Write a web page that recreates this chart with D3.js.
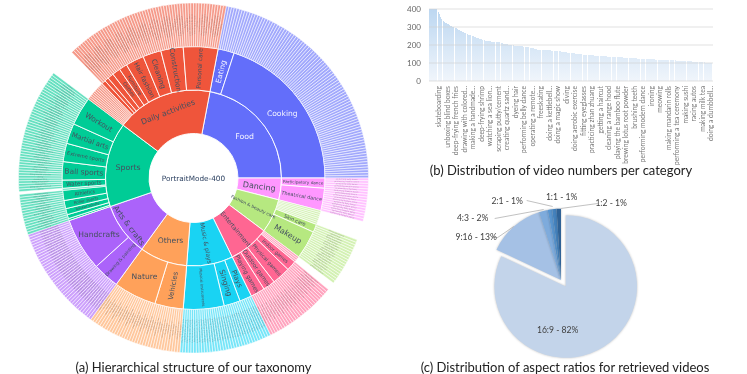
<!DOCTYPE html>
<html>
<head>
<meta charset="utf-8">
<script src="https://cdn.jsdelivr.net/npm/d3@7"></script>
<style>
  html, body { margin: 0; background: #fff; }
  svg { display: block; filter: blur(0.4px); }
  text { font-family: "DejaVu Sans", sans-serif; }
  .caption, .office { font-family: Lato, "Open Sans", sans-serif; }
</style>
</head>
<body>
<div id="chart"></div>
<script>
// (a) taxonomy: top groups, their sub groups and how many leaf classes each has.
// an empty sub name means the leaves sit directly under the top group
const topNames = ["Food", "Dancing", "Fashion & beauty care", "Entertainment", "Music & plays", "Others", "Arts & crafts", "Sports", "Daily activities"];
const subNames = [
  ["Eating", "Cooking"],
  ["Participatory dance", "Theatrical dance"],
  ["", "Skin care", "Makeup"],
  ["", "Indoor games", "Physical games", "Outdoor games", "Playing games"],
  ["Plays", "Singing", "Musical Instruments"],
  ["Vehicles", "Nature"],
  ["Drawing & painting", "Handcrafts"],
  ["small-1", "small-2", "Racket sports", "Roller sports", "Athletics", "", "Water sports", "Ball sports", "Extreme sports", "Martial arts", "Workout"],
  ["", "small-3", "small-4", "small-5", "Clothes", "Furniture", "Hair fashion", "Cleaning", "Construction", "Personal care"]
];
const subCounts = [
  [8, 80],
  [5, 11],
  [7, 4, 14],
  [3, 5, 9, 6, 7],
  [6, 8, 20],
  [14, 21],
  [13, 26],
  [1, 2, 3, 4, 5, 1, 4, 9, 9, 10, 14],
  [10, 2, 2, 3, 4, 4, 9, 9, 11, 17]
];
const centerName = "PortraitMode-400";
// the outer ring labels are too small to read, these stand in for them
const leafNames = [
  [],
  ["performing belly dance", "performing modern dance"],
  ["getting a haircut", "fitting eyeglasses", "dyeing hair"],
  ["doing a magic show", "racing autos"],
  ["playing the bamboo flute", "practicing zhan zhuang"],
  ["watching a sea lion", "meowing", "racing autos"],
  ["making a handmade", "drawing with colored", "creating quartz sand"],
  ["doing aerobic exercise", "freeskating", "doing a kettlebell", "skateboarding", "diving"],
  ["ironing", "brushing teeth", "cleaning a range hood", "scraping putty/cement", "operating a remote"]
];

// (b) videos per category, sorted, clipped at the top of the axis
const barValues = [
  400,400,400,400,400,400,400,400,400,400,400,400,400,385,375,365,355,345,340,335,
  332,330,328,325,322,320,317,314,312,309,307,305,302,300,298,297,295,293,292,290,
  288,286,283,281,279,277,275,272,270,268,267,265,263,261,260,258,257,255,254,253,
  251,250,248,246,245,243,242,240,239,238,236,235,233,232,231,229,228,227,226,225,
  224,223,222,221,220,220,220,219,219,218,218,218,217,217,217,216,216,215,214,214,
  213,212,211,210,209,208,207,206,205,204,203,202,201,200,200,200,199,199,198,198,
  197,197,197,196,196,195,195,194,194,193,193,192,192,191,190,190,189,189,188,188,
  187,186,186,185,184,183,182,181,180,179,178,177,176,175,175,174,174,174,173,173,
  173,172,172,172,172,171,171,171,171,170,170,170,170,169,169,169,168,168,168,167,
  167,166,166,165,165,164,164,163,162,162,161,160,160,159,159,158,158,157,156,156,
  155,155,154,154,153,153,152,151,151,150,150,149,149,149,148,148,147,147,146,146,
  146,145,145,145,144,144,144,143,143,143,142,142,142,141,141,141,140,140,140,140,
  139,139,139,138,138,138,138,137,137,137,137,136,136,136,136,135,135,135,135,134,
  134,134,133,133,133,133,132,132,132,132,131,131,131,131,130,130,130,130,130,129,
  129,129,129,129,128,128,128,127,127,127,127,126,126,126,125,125,125,125,124,124,
  124,124,123,123,123,123,122,122,122,122,122,121,121,121,121,120,120,120,120,120,
  119,119,119,119,119,118,118,118,118,118,117,117,117,117,117,116,116,116,116,115,
  115,115,115,115,114,114,114,114,114,113,113,113,113,113,112,112,112,112,112,111,
  111,111,111,111,110,110,110,110,109,109,109,109,108,108,108,107,107,107,106,106,
  106,105,105,105,104,104,104,103,103,103,102,102,102,102,101,101,101,101,100,100
];
const barTickNames = ["skateboarding", "unboxing blind boxes", "deep-frying french fries", "drawing with colored...", "making a handmade...", "deep-frying shrimp", "watching a sea lion...", "scraping putty/cement", "creating quartz sand...", "dyeing hair", "performing belly dance", "operating a remote...", "freeskating", "doing a kettlebell...", "doing a magic show", "diving", "doing aerobic exercise", "fitting eyeglasses", "practicing zhan zhuang", "getting a haircut", "cleaning a range hood", "playing the bamboo flute", "brewing lotus root powder", "brushing teeth", "performing modern dance", "ironing", "meowing", "making mandarin rolls", "performing a tea ceremony", "making sushi", "racing autos", "making milk tea", "doing a dumbbell..."];
const barAxisTicks = [0, 100, 200, 300, 400];

// (c) aspect ratios
const pieNames = ["16:9", "9:16", "4:3", "2:1", "1:1", "1:2"];
const pieValues = [82, 13, 2, 1, 1, 1];

// styles
const topColors = ["#636efa", "#ff97ff", "#b6e880", "#ff6692", "#19d3f3", "#ffa15a", "#ab63fa", "#00cc96", "#ef553b"];
const pieColors = ["#c3d4ea", "#a5c1e5", "#7eabdc", "#5a96d0", "#4482bd", "#2f6296"];
const labelSizes = {
  "Food": 7.8, "Dancing": 8, "Fashion & beauty care": 4.4, "Entertainment": 6.1, "Music & plays": 6, "Others": 7.6, "Arts & crafts": 7.6, "Sports": 7.8, "Daily activities": 7.8,
  "Eating": 7.4, "Cooking": 7.6, "Participatory dance": 4.2, "Theatrical dance": 4.9, "Skin care": 5, "Makeup": 7.8,
  "Indoor games": 4.8, "Physical games": 5.2, "Outdoor games": 5.6, "Playing games": 5.8, "Plays": 7, "Singing": 7.4, "Musical Instruments": 3.8,
  "Vehicles": 7, "Nature": 7.6, "Drawing & painting": 4.4, "Handcrafts": 7.6,
  "Racket sports": 3.6, "Roller sports": 4, "Athletics": 4.8, "Water sports": 5.6, "Ball sports": 7.4, "Extreme sports": 5, "Martial arts": 6.8, "Workout": 7.4,
  "Clothes": 4.5, "Furniture": 5, "Hair fashion": 6.4, "Cleaning": 7, "Construction": 7, "Personal care": 6
};
const flatLabels = ["Food", "Cooking", "Sports", "Others", "Nature", "Handcrafts"];
const tangentLabels = { "Daily activities": 71, "Arts & crafts": 80 };
const whiteLabels = ["Food", "Cooking", "Eating"];

const svg = d3.select("#chart").append("svg")
  .attr("width", 747)
  .attr("height", 374);

drawSunburst();
drawBars();
drawPie();

function drawSunburst() {
  const cx = 193.5, cy = 178;
  const startAngle = 10.8 * Math.PI / 180;

  const rootData = {
    name: centerName,
    children: topNames.map(function(name, i) {
      let children = [];
      subNames[i].forEach(function(sub, j) {
        const leaves = d3.range(subCounts[i][j]).map(function() { return { value: 1 }; });
        if (sub === "") children = children.concat(leaves);
        else children.push({ name: sub, children: leaves });
      });
      return { name: name, top: i, children: children };
    })
  };

  const root = d3.hierarchy(rootData).sum(function(d) { return d.value || 0; });
  d3.partition().size([2 * Math.PI, 4])(root);

  const radius = d3.scaleLinear().domain([1, 4]).range([44.5, 175]);
  const arc = d3.arc()
    .startAngle(function(d) { return d.x0 + startAngle; })
    .endAngle(function(d) { return d.x1 + startAngle; })
    .innerRadius(function(d) { return radius(d.y0); })
    .outerRadius(function(d) { return radius(d.y1); });

  const g = svg.append("g").attr("transform", "translate(" + cx + "," + cy + ")");
  const nodes = root.descendants().filter(function(d) { return d.depth > 0; });
  const topIndex = function(d) { return d.ancestors().slice(-2)[0].data.top; };

  g.selectAll("path")
    .data(nodes)
    .enter()
    .append("path")
    .attr("d", arc)
    .attr("fill", function(d) { return topColors[topIndex(d)]; })
    .attr("fill-opacity", function(d) { return d.children ? 1 : 0.6; })
    .attr("stroke", "#fff")
    .attr("stroke-width", function(d) { return d.children ? 0.9 : 0.55; });

  g.selectAll("text.node")
    .data(nodes.filter(function(d) { return labelSizes[d.data.name]; }))
    .enter()
    .append("text")
    .attr("class", "node")
    .attr("text-anchor", "middle")
    .attr("dy", ".35em")
    .attr("fill", function(d) { return whiteLabels.indexOf(d.data.name) >= 0 ? "#f4f4ff" : "#44505f"; })
    .style("font-size", function(d) { return labelSizes[d.data.name] + "px"; })
    .attr("transform", function(d) {
      const name = d.data.name;
      let c = arc.centroid(d);
      if (tangentLabels[name]) {
        const a = (d.x0 + d.x1) / 2 + startAngle;
        c = [tangentLabels[name] * Math.sin(a), -tangentLabels[name] * Math.cos(a)];
      }
      return "translate(" + c[0] + "," + c[1] + ") rotate(" + labelRotation(d) + ")";
    })
    .text(function(d) { return d.data.name; });

  // outer ring labels
  const leaves = nodes.filter(function(d) { return !d.children && d.depth === 3 && leafNames[topIndex(d)].length; });
  g.selectAll("text.leaf")
    .data(leaves)
    .enter()
    .append("text")
    .attr("class", "leaf")
    .attr("text-anchor", "middle")
    .attr("dy", ".35em")
    .attr("fill", "#444")
    .attr("fill-opacity", 0.4)
    .style("font-size", "1.9px")
    .attr("transform", function(d) {
      const c = arc.centroid(d);
      return "translate(" + c[0] + "," + c[1] + ") rotate(" + labelRotation(d) + ")";
    })
    .text(function(d, i) {
      const names = leafNames[topIndex(d)];
      return names[i % names.length];
    });

  g.append("text")
    .attr("text-anchor", "middle")
    .attr("dy", ".35em")
    .attr("fill", "#2a3f5f")
    .style("font-size", "7.3px")
    .text(centerName);

  function labelRotation(d) {
    const a = ((d.x0 + d.x1) / 2 + startAngle) * 180 / Math.PI % 360;
    if (flatLabels.indexOf(d.data.name) >= 0) return 0;
    if (tangentLabels[d.data.name]) return (a + 90) % 180 - 90;
    return a < 180 ? a - 90 : a - 270;
  }

  svg.append("text")
    .attr("class", "caption")
    .attr("x", cx)
    .attr("y", 372)
    .attr("text-anchor", "middle")
    .attr("fill", "#222")
    .style("font-size", "13px")
    .text("(a) Hierarchical structure of our taxonomy");
}

function drawBars() {
  const left = 429, right = 712, top = 9, bottom = 81;
  const x = d3.scaleBand().domain(d3.range(barValues.length)).range([left, right]).padding(0.12);
  const y = d3.scaleLinear().domain([0, 400]).range([bottom, top]);

  const grad = svg.append("defs").append("linearGradient")
    .attr("id", "barFill")
    .attr("gradientUnits", "userSpaceOnUse")
    .attr("x1", 0).attr("x2", 0)
    .attr("y1", y(400)).attr("y2", y(0));
  grad.append("stop").attr("offset", "0%").attr("stop-color", "#bcd7f1");
  grad.append("stop").attr("offset", "100%").attr("stop-color", "#f0f5fb");

  svg.append("g")
    .selectAll("rect")
    .data(barValues)
    .enter()
    .append("rect")
    .attr("x", function(d, i) { return x(i); })
    .attr("y", function(d) { return y(d); })
    .attr("width", x.bandwidth())
    .attr("height", function(d) { return y(0) - y(d); })
    .attr("fill", "url(#barFill)")
    .attr("shape-rendering", "crispEdges");

  svg.append("g")
    .selectAll("line")
    .data(barAxisTicks)
    .enter()
    .append("line")
    .attr("x1", left).attr("x2", right + 1)
    .attr("y1", function(d) { return y(d); })
    .attr("y2", function(d) { return y(d); })
    .attr("stroke", "#cfcfcf")
    .attr("stroke-opacity", 0.8)
    .attr("stroke-width", 0.8);

  const yAxis = svg.append("g")
    .attr("transform", "translate(" + left + ",0)")
    .call(d3.axisLeft(y).tickValues(barAxisTicks).tickSize(0).tickPadding(8));
  yAxis.select(".domain").remove();
  yAxis.selectAll("text")
    .attr("fill", "#666")
    .style("font-family", "Lato, sans-serif")
    .style("font-size", "8px");

  const tickIndex = barTickNames.map(function(d, i) { return 14 + 12 * i; });
  const xAxis = svg.append("g")
    .attr("transform", "translate(0," + bottom + ")")
    .call(d3.axisBottom(x).tickValues(tickIndex).tickSize(0)
      .tickFormat(function(d) { return barTickNames[(d - 14) / 12]; }));
  xAxis.select(".domain").remove();
  xAxis.selectAll("text")
    .attr("fill", "#777")
    .style("font-family", "Lato, sans-serif")
    .style("font-size", "6.7px")
    .attr("text-anchor", "end")
    .attr("dy", 0)
    .attr("transform", "translate(2,5) rotate(-90)")
    .attr("y", 0);

  svg.append("text")
    .attr("class", "caption")
    .attr("x", 561)
    .attr("y", 175)
    .attr("text-anchor", "middle")
    .attr("fill", "#222")
    .style("font-size", "13px")
    .text("(b) Distribution of video numbers per category");
}

function drawPie() {
  const cx = 565.7, cy = 286.5, r = 71.3;
  const slices = d3.pie().sort(null)(pieValues);
  const arc = d3.arc().innerRadius(0).outerRadius(r);

  // every slice but the big one is pulled out up and left
  const offset = [-4.7, -6.5];
  // label anchors, relative to the pie center
  const labelAt = [[-8, 43], [-89.5, -49.5], [-93, -68.5], [-58.5, -85.5], [-4, -89.5], [45.5, -83.5]];
  const leader = [null,
    [[-74, -49], [-68, -49], [-52, -60]],
    [[-71, -68], [-22, -77]],
    [[-39, -86], [-13, -80]],
    null,
    [[32, -83], [-5, -78]]];

  svg.append("g")
    .selectAll("path")
    .data(slices)
    .enter()
    .append("path")
    .attr("d", arc)
    .attr("fill", function(d, i) { return pieColors[i]; })
    .style("filter", "drop-shadow(0 0 1px rgba(0,0,0,.25))")
    .attr("transform", function(d, i) {
      return i === 0 ? "translate(" + cx + "," + cy + ")"
        : "translate(" + (cx + offset[0]) + "," + (cy + offset[1]) + ")";
    });

  const line = d3.line();
  svg.append("g")
    .attr("transform", "translate(" + cx + "," + cy + ")")
    .selectAll("path")
    .data(leader.filter(Boolean))
    .enter()
    .append("path")
    .attr("d", line)
    .attr("fill", "none")
    .attr("stroke", "#a6a6a6")
    .attr("stroke-width", 0.7);

  svg.append("g")
    .selectAll("text")
    .data(slices)
    .enter()
    .append("text")
    .attr("class", "office")
    .attr("x", function(d, i) { return cx + labelAt[i][0]; })
    .attr("y", function(d, i) { return cy + labelAt[i][1]; })
    .attr("dy", ".35em")
    .attr("text-anchor", "middle")
    .attr("fill", "#404040")
    .style("font-size", "8.6px")
    .text(function(d, i) { return pieNames[i] + " - " + d.value + "%"; });

  svg.append("text")
    .attr("class", "caption")
    .attr("x", 565)
    .attr("y", 372)
    .attr("text-anchor", "middle")
    .attr("fill", "#222")
    .style("font-size", "13px")
    .text("(c) Distribution of aspect ratios for retrieved videos");
}
</script>
</body>
</html>
